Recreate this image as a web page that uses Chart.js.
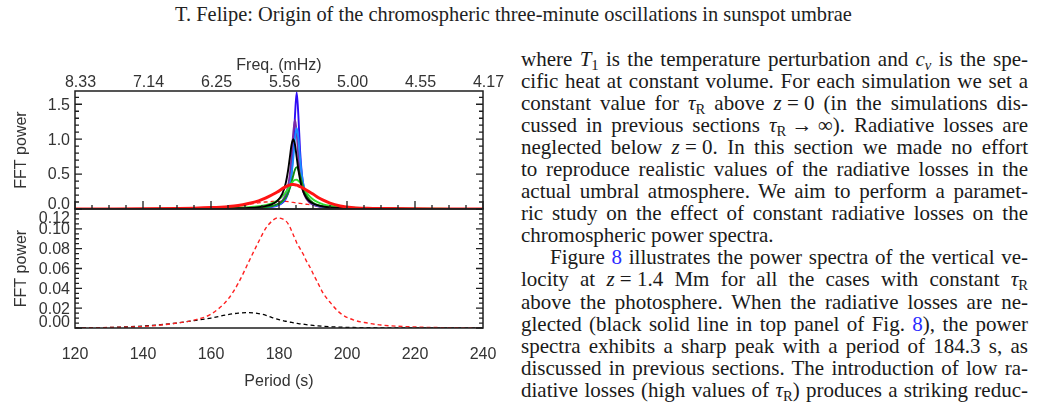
<!DOCTYPE html>
<html><head><meta charset="utf-8">
<script src="https://cdn.jsdelivr.net/npm/chart.js"></script>
<style>
html,body{margin:0;padding:0;background:#fff;}
body{width:1038px;height:405px;position:relative;overflow:hidden;}
#head{position:absolute;left:0;top:4px;width:1027px;text-align:center;font-family:"Liberation Serif",serif;font-size:17px;line-height:20px;color:#222;white-space:nowrap;}
#head span{white-space:pre;}
.ln{position:absolute;height:22px;line-height:22px;font-family:"Liberation Serif",serif;font-size:21px;color:#1a1a1a;white-space:pre;}
.ln sub{font-size:70%;line-height:0;vertical-align:-0.28em;font-style:normal;}
.ln i sub{font-style:italic;}
.ref{color:#2a2aff;}
canvas{position:absolute;left:0;}
#cTop{top:40px;}
#cBot{top:205px;}
</style>
</head>
<body>
<div id="head"><span id="headTxt">T. Felipe: Origin of the chromospheric three-minute oscillations in sunspot umbrae</span></div>
<canvas id="cTop" width="515" height="175"></canvas>
<canvas id="cBot" width="515" height="200"></canvas>
<script>
// ---------- data ----------
const periods = [120,130,140,150,155,160,165,168,171,174,176,178,179.5,181,182,182.7,183.2,183.7,184.2,184.7,185.2,185.7,186.2,186.7,187.2,188,189,190,191.5,193,195,198,202,206,210,220,230,240];
const blackSolid = [0.001,0.001,0.0015,0.0025,0.0034,0.005,0.008,0.011,0.016,0.027,0.042,0.070,0.116,0.220,0.374,0.562,0.743,0.921,1.000,0.921,0.743,0.562,0.420,0.316,0.243,0.166,0.112,0.079,0.051,0.036,0.024,0.015,0.009,0.006,0.004,0.002,0.001,0.001];
const purple = [0.0004,0.0006,0.0009,0.0016,0.0021,0.0031,0.0048,0.0067,0.0099,0.016,0.024,0.040,0.065,0.122,0.212,0.339,0.499,0.755,1.091,1.280,1.091,0.755,0.499,0.339,0.239,0.150,0.093,0.062,0.038,0.026,0.017,0.010,0.006,0.004,0.003,0.0015,0.0009,0.0006];
const blueDark = [0.0004,0.0006,0.0008,0.0014,0.0019,0.0027,0.0041,0.0056,0.0082,0.013,0.020,0.031,0.050,0.089,0.148,0.230,0.334,0.514,0.835,1.336,1.670,1.336,0.835,0.514,0.334,0.189,0.108,0.070,0.041,0.027,0.017,0.010,0.006,0.004,0.003,0.0014,0.0008,0.0006];
const blueLight = [0.0005,0.0007,0.001,0.0016,0.0021,0.003,0.0048,0.0066,0.0096,0.015,0.023,0.037,0.057,0.101,0.164,0.247,0.344,0.497,0.728,1.011,1.160,1.011,0.728,0.497,0.344,0.205,0.122,0.080,0.047,0.031,0.020,0.012,0.007,0.0045,0.0031,0.0016,0.001,0.0007];
const greenDark = [0.0006,0.0008,0.0012,0.002,0.0026,0.0037,0.0058,0.008,0.0117,0.0185,0.027,0.043,0.066,0.111,0.168,0.234,0.300,0.384,0.480,0.565,0.600,0.565,0.480,0.384,0.300,0.203,0.130,0.089,0.055,0.037,0.024,0.014,0.0084,0.0055,0.0038,0.002,0.0012,0.0008];
const greenLight = [0.0012,0.0017,0.0025,0.0042,0.0057,0.0081,0.0125,0.017,0.025,0.039,0.055,0.084,0.121,0.182,0.242,0.293,0.332,0.369,0.400,0.417,0.419,0.404,0.376,0.340,0.301,0.242,0.182,0.138,0.095,0.067,0.046,0.028,0.017,0.011,0.008,0.0042,0.0025,0.0017];
const redSolid = [0.0,0.001,0.003,0.008,0.012,0.02,0.034,0.049,0.078,0.117,0.156,0.204,0.243,0.292,0.321,0.335,0.345,0.350,0.350,0.348,0.342,0.333,0.321,0.309,0.296,0.272,0.243,0.214,0.165,0.126,0.083,0.044,0.019,0.010,0.006,0.002,0.001,0.0];
const redDashed = [0.0,0.0005,0.0015,0.005,0.008,0.014,0.029,0.045,0.066,0.087,0.100,0.108,0.111,0.110,0.108,0.105,0.102,0.098,0.094,0.090,0.086,0.083,0.080,0.077,0.074,0.068,0.062,0.055,0.045,0.035,0.026,0.015,0.008,0.005,0.003,0.001,0.0003,0.0];
const blackDashed = [0.0,0.0005,0.002,0.005,0.0075,0.010,0.0135,0.015,0.0155,0.0145,0.013,0.0105,0.009,0.0075,0.0068,0.0063,0.006,0.0056,0.0053,0.005,0.0047,0.0044,0.0042,0.004,0.0038,0.0034,0.003,0.0026,0.0021,0.0017,0.0013,0.0009,0.0005,0.0003,0.0002,0.0001,0.0,0.0];

const periodTicks = [120,140,160,180,200,220,240];
const periodLabels = ['120','140','160','180','200','220','240'];
const freqLabels = ['8.33','7.14','6.25','5.56','5.00','4.55','4.17'];
const yTopTicks = [0,0.5,1.0,1.5];
const yTopLabels = ['0.0','0.5','1.0','1.5'];
const yBotTicks = [0,0.02,0.04,0.06,0.08,0.10,0.12];
const yBotLabels = ['0.00','0.02','0.04','0.06','0.08','0.10','0.12'];

// ---------- styling ----------
const SANS = '"Liberation Sans", Arial, Helvetica, sans-serif';
const TXT = '#333';

const boxTicks = {
  id: 'boxTicks',
  afterDatasetsDraw(chart, args, o) {
    const {ctx, chartArea: a} = chart;
    ctx.save();
    ctx.strokeStyle = '#1e1e1e';
    ctx.lineWidth = 1.3;
    ctx.beginPath();
    if (o.y) {
      const ys = chart.scales.y;
      const n = Math.floor((ys.max - ys.min) / o.y.minor + 1e-6);
      for (let k = 0; k <= n; k++) {
        const v = ys.min + k * o.y.minor;
        const r = v / o.y.major;
        const major = Math.abs(r - Math.round(r)) < 1e-6;
        const len = major ? o.y.majorLen : o.y.minorLen;
        const p = ys.getPixelForValue(v);
        ctx.moveTo(a.left, p); ctx.lineTo(a.left + len, p);
        ctx.moveTo(a.right, p); ctx.lineTo(a.right - len, p);
      }
    }
    if (o.x) {
      const xs = chart.scales.x;
      const n = Math.floor((xs.max - xs.min) / o.x.minor + 1e-6);
      for (let k = 0; k <= n; k++) {
        const v = xs.min + k * o.x.minor;
        const r = (v - xs.min) / o.x.major;
        const major = Math.abs(r - Math.round(r)) < 1e-6;
        const len = major ? o.x.majorLen : o.x.minorLen;
        const p = xs.getPixelForValue(v);
        ctx.moveTo(p, a.bottom); ctx.lineTo(p, a.bottom - len);
      }
    }
    ctx.stroke();
    ctx.lineWidth = 1.5;
    ctx.strokeRect(a.left, a.top, a.right - a.left, a.bottom - a.top);
    ctx.restore();
  }
};

function noPad(s) { s.paddingLeft = 0; s.paddingRight = 0; s.paddingTop = 0; s.paddingBottom = 0; }

function ds(vals, color, width, dash) {
  return {
    data: periods.map((p, i) => ({x: p, y: vals[i]})),
    borderColor: color, borderWidth: width, borderDash: dash || [],
    pointRadius: 0, fill: false, cubicInterpolationMode: 'monotone'
  };
}

const common = { responsive: false, animation: false, devicePixelRatio: 1, events: [] };
const RPAD = 515 - 483;

new Chart(document.getElementById('cTop'), {
  type: 'line',
  data: { datasets: [
    ds(redSolid, '#ff1414', 3),
    ds(blackSolid, '#000000', 1.9),
    ds(greenLight, '#33dd33', 1.9),
    ds(greenDark, '#138a13', 1.9),
    ds(blueLight, '#1a8cff', 1.9),
    ds(purple, '#7b2ba6', 1.9),
    ds(blueDark, '#2e0cf5', 1.9),
    ds(redDashed, '#ff2020', 1.3, [4, 3])
  ]},
  options: Object.assign({}, common, {
    layout: {padding: {left: 0, right: RPAD, top: 0, bottom: 0}},
    plugins: {
      legend: {display: false}, tooltip: {enabled: false},
      boxTicks: {y: {major: 0.5, minor: 0.1, majorLen: 7, minorLen: 4},
                 x: {major: 20, minor: 5, majorLen: 8, minorLen: 4}}
    },
    scales: {
      x: {type: 'linear', position: 'bottom', min: 120, max: 240,
          grid: {display: false, drawTicks: false}, border: {display: false},
          ticks: {display: false}, afterFit(s) { s.height = 6; noPad(s); }},
      x2: {type: 'linear', position: 'top', min: 120, max: 240,
           grid: {display: false, drawTicks: false}, border: {display: false},
           afterBuildTicks(s) { s.ticks = periodTicks.map(v => ({value: v})); },
           ticks: {autoSkip: false, maxRotation: 0, padding: 0, labelOffset: 5.5, color: TXT,
                   font: {family: SANS, size: 16, lineHeight: 1},
                   callback: (v, i) => freqLabels[i]},
           title: {display: true, text: 'Freq. (mHz)', color: TXT,
                   font: {family: SANS, size: 16}, padding: {top: 16.4, bottom: 0}},
           afterFit(s) { s.height = 51; noPad(s); }},
      y: {type: 'linear', position: 'left', min: 0, max: 1.69,
          grid: {display: false, drawTicks: false}, border: {display: false},
          afterBuildTicks(s) { s.ticks = yTopTicks.map(v => ({value: v})); },
          ticks: {autoSkip: false, padding: 5, labelOffset: 1, color: TXT,
                  font: c => ({family: SANS, size: 16, lineHeight: c.index === 0 ? '10px' : '16px'}),
                  callback: (v, i) => i === 0 ? [yTopLabels[i], ''] : yTopLabels[i]},
          title: {display: true, text: 'FFT power', color: TXT,
                  font: {family: SANS, size: 16}, padding: {top: 12.4, bottom: 0}},
          afterFit(s) { s.width = 75; noPad(s); }}
    }
  }),
  plugins: [boxTicks]
});

new Chart(document.getElementById('cBot'), {
  type: 'line',
  data: { datasets: [
    ds(redDashed, '#ff2020', 1.4, [4, 3]),
    ds(blackDashed, '#000000', 1.3, [4, 3])
  ]},
  options: Object.assign({}, common, {
    layout: {padding: {left: 0, right: RPAD, top: 4, bottom: 0}},
    plugins: {
      legend: {display: false}, tooltip: {enabled: false},
      boxTicks: {y: {major: 0.02, minor: 0.005, majorLen: 7, minorLen: 4}}
    },
    scales: {
      x: {type: 'linear', position: 'bottom', min: 120, max: 240,
          grid: {display: false, drawTicks: false}, border: {display: false},
          afterBuildTicks(s) { s.ticks = periodTicks.map(v => ({value: v})); },
          ticks: {autoSkip: false, maxRotation: 0, padding: 19, color: TXT,
                  font: {family: SANS, size: 16, lineHeight: 1},
                  callback: (v, i) => periodLabels[i]},
          title: {display: true, text: 'Period (s)', color: TXT,
                  font: {family: SANS, size: 16}, padding: {top: 0, bottom: 13.7}},
          afterFit(s) { s.height = 77; noPad(s); }},
      y: {type: 'linear', position: 'left', min: 0, max: 0.12,
          grid: {display: false, drawTicks: false}, border: {display: false},
          afterBuildTicks(s) { s.ticks = yBotTicks.map(v => ({value: v})); },
          ticks: {autoSkip: false, padding: 5, labelOffset: 1, color: TXT,
                  font: c => ({family: SANS, size: 16,
                               lineHeight: c.index === 0 ? '13px' : (c.index === 6 ? '18px' : '16px')}),
                  callback: (v, i) => i === 0 ? [yBotLabels[i], ''] : (i === 6 ? ['', yBotLabels[i]] : yBotLabels[i])},
          title: {display: true, text: 'FFT power', color: TXT,
                  font: {family: SANS, size: 16}, padding: {top: 12.4, bottom: 0}},
          afterFit(s) { s.width = 75; noPad(s); }}
    }
  }),
  plugins: [boxTicks]
});

// ---------- text column ----------
const lines = [
  'where <i>T</i><sub>1</sub> is the temperature perturbation and <i>c<sub>v</sub></i> is the spe-',
  'cific heat at constant volume. For each simulation we set a',
  'constant value for <i>τ</i><sub>R</sub> above <i>z</i>\u2005=\u20050 (in the simulations dis-',
  'cussed in previous sections <i>τ</i><sub>R</sub>\u2005→\u2005∞). Radiative losses are',
  'neglected below <i>z</i>\u2005=\u20050. In this section we made no effort',
  'to reproduce realistic values of the radiative losses in the',
  'actual umbral atmosphere. We aim to perform a paramet-',
  'ric study on the effect of constant radiative losses on the',
  'chromospheric power spectra.',
  'Figure <span class="ref">8</span> illustrates the power spectra of the vertical ve-',
  'locity at <i>z</i>\u2005=\u20051.4 Mm for all the cases with constant <i>τ</i><sub>R</sub>',
  'above the photosphere. When the radiative losses are ne-',
  'glected (black solid line in top panel of Fig. <span class="ref">8</span>), the power',
  'spectra exhibits a sharp peak with a period of 184.3 s, as',
  'discussed in previous sections. The introduction of low ra-',
  'diative losses (high values of <i>τ</i><sub>R</sub>) produces a striking reduc-'
];
const LEFT = 521, RIGHT = 1028;
lines.forEach((h, i) => {
  const d = document.createElement('div');
  d.className = 'ln';
  d.innerHTML = h;
  const indent = (i === 9) ? 29 : 0;
  d.style.left = (LEFT + indent) + 'px';
  d.style.top = (47.5 + i * 22.09).toFixed(1) + 'px';
  document.body.appendChild(d);
  if (i !== 8) {
    const w = d.getBoundingClientRect().width;
    const n = (d.textContent.match(/ /g) || []).length;
    const target = RIGHT - LEFT - indent;
    if (n > 0) d.style.wordSpacing = ((target - w) / n).toFixed(3) + 'px';
  }
});
// header fitted to its width in the page
const ht = document.getElementById('headTxt');
const hw = ht.getBoundingClientRect().width;
document.getElementById('head').style.fontSize = (17 * 677 / hw).toFixed(2) + 'px';
</script>
</body></html>
